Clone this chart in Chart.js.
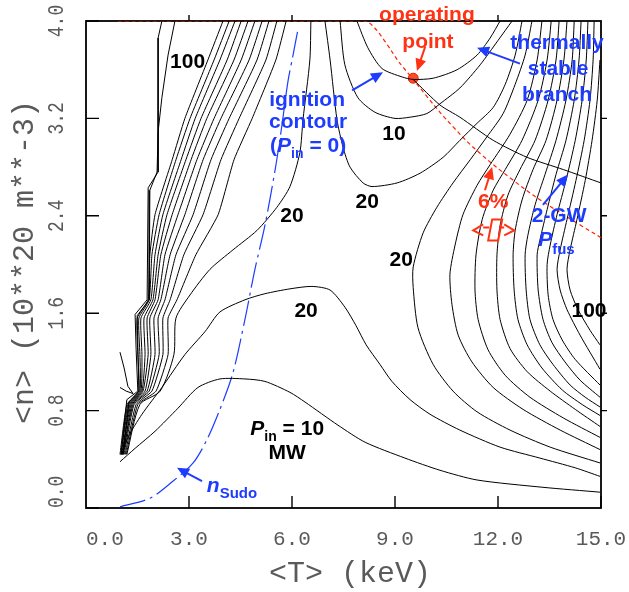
<!DOCTYPE html>
<html>
<head>
<meta charset="utf-8">
<script src="https://cdn.jsdelivr.net/npm/chart.js@4.4.0/dist/chart.umd.min.js"></script>
<style>
  html, body { margin: 0; padding: 0; background: #fff; }
</style>
</head>
<body>
<canvas id="popcon" width="629" height="592"></canvas>
<script>
// axis ticks
const xTicks = [0, 3, 6, 9, 12, 15];
const yTicks = [0, 0.8, 1.6, 2.4, 3.2, 4.0];

// contours, [T keV, n 1e20 m-3]
const ignition = [[7.89,4.0],[8.21,3.78],[8.62,3.61],[9.21,3.54],[9.53,3.52],[10.11,3.53],[10.81,3.60],[11.39,3.72],[11.77,3.86],[12.06,4.0]];
const pin10Upper = [[7.40,4.0],[7.54,3.64],[7.92,3.37],[8.42,3.25],[9.00,3.20],[9.44,3.21],[9.93,3.24],[10.31,3.32],[10.89,3.45],[11.48,3.64],[12.00,3.84],[12.41,4.0]];
const pin20Upper = [[6.96,4.0],[7.11,3.68],[7.31,3.19],[7.49,2.96],[7.69,2.80],[8.07,2.67],[8.33,2.64],[9.06,2.67],[9.73,2.75],[10.40,2.88],[10.89,3.02],[11.39,3.16],[11.86,3.29],[12.21,3.48],[12.50,3.72],[12.70,4.0]];
const pfus2GW = [[9.53,3.52],[10.31,3.31],[10.89,3.21],[11.86,3.02],[12.85,2.88],[13.90,2.78],[15.0,2.67]];
const betaLimit = [[0.93,4.0],[8.13,4.0],[9.15,3.65],[9.53,3.52],[10.31,3.25],[11.10,3.01],[11.86,2.82],[13.02,2.57],[13.90,2.41],[15.0,2.22]];
const nSudo = [[0.99,0.01],[1.86,0.08],[2.53,0.22],[3.12,0.37],[3.52,0.56],[3.90,0.81],[4.28,1.11],[4.63,1.55],[4.92,1.96],[5.21,2.32],[5.51,2.78],[5.71,3.15],[5.88,3.50],[6.03,3.72],[6.18,3.94]];
const operatingPoint = [[9.53,3.53]];

const pin10Lower = [[0.99,0.38],[1.43,0.49],[2.01,0.63],[2.68,0.82],[3.26,0.99],[3.90,1.06],[4.63,1.06],[5.21,1.04],[5.94,0.95],[6.38,0.87],[7.34,0.68],[8.13,0.54],[9.29,0.41],[10.31,0.31],[11.39,0.23],[13.31,0.17],[14.97,0.13]];
const pin20Lower = [[1.05,0.44],[1.22,0.58],[1.63,0.77],[2.21,0.99],[2.88,1.26],[3.47,1.45],[3.90,1.61],[4.63,1.71],[5.21,1.76],[5.94,1.80],[6.58,1.82],[7.11,1.79],[7.54,1.65],[7.86,1.50],[8.16,1.34],[8.56,1.18],[8.91,1.04],[9.44,0.89],[10.02,0.77],[10.89,0.64],[12.06,0.50],[13.22,0.41],[14.25,0.33],[14.97,0.26]];

// high-T family
const pin20Right = [[12.99,4.0],[12.79,3.72],[12.50,3.48],[12.15,3.24],[11.68,3.05],[11.19,2.86],[10.69,2.67],[10.22,2.47],[9.82,2.26],[9.53,1.98],[9.53,1.81],[9.67,1.48],[10.11,1.18],[10.69,0.96],[11.39,0.79],[12.35,0.64],[13.52,0.50],[14.97,0.37]];
const pin30Right = [[13.28,4.0],[13.14,3.68],[12.85,3.35],[12.35,3.07],[11.77,2.82],[11.39,2.65],[10.98,2.41],[10.75,2.16],[10.60,1.92],[10.66,1.67],[10.84,1.42],[11.24,1.20],[11.86,0.99],[12.73,0.81],[13.81,0.64],[14.97,0.48]];
const pin40Right = [[13.55,4.0],[13.43,3.68],[13.17,3.35],[12.70,3.02],[12.21,2.78],[11.86,2.61],[11.54,2.37],[11.36,2.08],[11.33,1.79],[11.42,1.55],[11.71,1.30],[12.21,1.09],[12.93,0.91],[13.90,0.74],[14.97,0.58]];
const pin50Right = [[13.78,4.0],[13.69,3.68],[13.46,3.35],[13.08,3.02],[12.64,2.78],[12.29,2.57],[12.06,2.32],[11.97,2.08],[11.97,1.79],[12.06,1.55],[12.35,1.31],[12.85,1.12],[13.52,0.96],[14.25,0.81],[14.97,0.67]];
const pin60Right = [[14.01,4.0],[13.92,3.68],[13.72,3.35],[13.40,3.02],[13.02,2.78],[12.70,2.53],[12.50,2.28],[12.44,2.08],[12.47,1.79],[12.58,1.55],[12.85,1.34],[13.28,1.15],[13.87,0.97],[14.45,0.85],[14.97,0.76]];
const pin70Right = [[14.22,4.0],[14.16,3.68],[13.98,3.35],[13.69,3.02],[13.37,2.74],[13.08,2.49],[12.87,2.24],[12.79,2.08],[12.82,1.79],[12.93,1.55],[13.22,1.34],[13.60,1.18],[14.10,1.01],[14.54,0.91],[14.97,0.83]];
const pin80Right = [[14.42,4.0],[14.36,3.68],[14.22,3.35],[13.98,3.02],[13.69,2.74],[13.43,2.45],[13.22,2.20],[13.14,2.08],[13.17,1.79],[13.31,1.55],[13.57,1.36],[13.95,1.20],[14.39,1.05],[14.97,0.91]];
const pin90Right = [[14.62,4.0],[14.57,3.68],[14.45,3.35],[14.25,3.02],[13.98,2.69],[13.72,2.41],[13.52,2.16],[13.43,2.00],[13.46,1.75],[13.60,1.55],[13.87,1.38],[14.25,1.22],[14.97,1.01]];
const pin100Right = [[14.80,4.0],[14.77,3.68],[14.68,3.35],[14.51,3.02],[14.27,2.69],[14.01,2.37],[13.81,2.12],[13.72,1.96],[13.81,1.79],[14.01,1.63],[14.39,1.42],[14.97,1.14]];
const pin110Right = [[14.97,3.68],[14.89,3.35],[14.74,3.02],[14.54,2.69],[14.30,2.37],[14.10,2.12],[14.01,1.96],[14.10,1.79],[14.33,1.63],[14.68,1.46],[14.97,1.34]];

// low-T fan: shared n levels, one T list per line
const fanN = [4.0, 3.68, 3.20, 2.86, 2.41, 2.08, 1.71, 1.56, 1.26, 0.96, 0.85, 0.44];
const fanT = [
  [3.99, 3.55, 2.88, 2.51, 2.01, 1.86, 1.81, 1.49, 1.51, 1.54, 1.19, 0.99],
  [4.17, 3.73, 3.03, 2.62, 2.13, 1.92, 1.84, 1.54, 1.57, 1.57, 1.22, 1.02],
  [4.34, 3.90, 3.18, 2.77, 2.24, 2.01, 1.89, 1.60, 1.63, 1.60, 1.25, 1.02],
  [4.52, 4.11, 3.35, 2.91, 2.36, 2.10, 1.95, 1.69, 1.72, 1.63, 1.28, 1.05],
  [4.72, 4.31, 3.52, 3.06, 2.51, 2.18, 2.01, 1.78, 1.81, 1.66, 1.31, 1.05],
  [4.92, 4.52, 3.73, 3.23, 2.68, 2.30, 2.10, 1.86, 1.89, 1.72, 1.34, 1.08],
  [5.13, 4.75, 3.93, 3.41, 2.88, 2.45, 2.18, 1.98, 2.01, 1.78, 1.37, 1.08],
  [5.33, 4.98, 4.17, 3.64, 3.12, 2.62, 2.30, 2.10, 2.13, 1.84, 1.40, 1.11],
  [5.56, 5.24, 4.46, 3.93, 3.41, 2.85, 2.45, 2.24, 2.24, 1.92, 1.46, 1.14],
  [5.83, 5.53, 4.84, 4.31, 3.85, 3.20, 2.65, 2.39, 2.39, 2.04, 1.51, 1.17]
];
const pin20Left = [[6.55,4.0],[6.52,3.68],[6.32,3.19],[6.23,2.92],[5.94,2.64],[5.56,2.47],[4.98,2.28],[4.28,2.12],[3.61,1.96],[3.03,1.75],[2.62,1.56],[2.56,1.26],[2.16,0.96],[1.57,0.85],[1.19,0.44]];
const edge1 = [[2.21,4.0],[2.10,3.86],[2.10,2.76],[1.81,2.63],[1.78,1.71],[1.43,1.59],[1.46,1.30],[1.51,0.96],[1.19,0.89],[1.02,0.44]];
const edge2 = [[2.59,4.0],[2.39,3.72],[2.21,3.37],[2.10,3.09],[2.07,2.76],[1.86,2.61],[1.84,1.71],[1.49,1.58],[1.54,0.96],[1.25,0.87],[1.08,0.44]];
const hookA = [[0.99,1.28],[1.11,1.15],[1.22,1.00],[1.37,0.94]];
const hookB = [[0.99,0.99],[1.17,0.96],[1.37,0.94]];

const BLUE = '#1e3cff';
const RED = '#ff3214';
const SANS = '"Liberation Sans", Arial, sans-serif';
const MONO = '"Liberation Mono", "DejaVu Sans Mono", monospace';
const B = s => 'bold ' + s + 'px ' + SANS;
const BI = s => 'italic bold ' + s + 'px ' + SANS;

const toXY = arr => arr.map(p => ({x: p[0], y: p[1]}));
function contour(arr, opts) {
  return Object.assign({data: toXY(arr), showLine: true, borderColor: '#000', borderWidth: 1,
    pointRadius: 0, tension: 0.25, fill: false}, opts || {});
}

const datasets = [];
fanT.forEach(ts => datasets.push(contour(ts.map((t, i) => [t, fanN[i]]), {tension: 0.15})));
[edge1, edge2, hookA, hookB].forEach(a => datasets.push(contour(a, {tension: 0})));
[pin20Left, pin10Lower, pin20Lower, ignition, pin10Upper, pin20Upper, pfus2GW,
 pin20Right, pin30Right, pin40Right, pin50Right, pin60Right, pin70Right, pin80Right,
 pin90Right, pin100Right, pin110Right].forEach(a => datasets.push(contour(a)));
datasets.push(contour(betaLimit, {borderColor: '#ff2000', borderWidth: 1.2, borderDash: [4, 3], tension: 0.2}));
datasets.push(contour(nSudo, {borderColor: BLUE, borderWidth: 1.2, borderDash: [26, 5, 3, 5], tension: 0.3}));
datasets.push({data: toXY(operatingPoint), showLine: false, pointRadius: 5, pointStyle: 'circle',
  pointBackgroundColor: '#ff4a2a', pointBorderColor: '#e02000', pointBorderWidth: 1});
datasets.push({data: toXY(operatingPoint), showLine: false, pointRadius: 3, pointStyle: 'crossRot',
  pointBorderColor: '#000', pointBorderWidth: 1});

// labels and arrows, anchored in data units
const notes = [
  {T: 2.96, n: 3.61, c: '#000', parts: [['100', B(21)]]},
  {T: 6.44, n: 3.30, c: BLUE, parts: [['ignition', B(21)]]},
  {T: 6.47, n: 3.12, c: BLUE, parts: [['contour', B(21)]]},
  {T: 6.47, n: 2.92, c: BLUE, parts: [['(', B(21)], ['P', BI(21)], ['in', B(14), 6], [' = 0)', B(21)]]},
  {T: 9.93, n: 4.00, c: RED, parts: [['operating', B(21)]]},
  {T: 9.96, n: 3.78, c: RED, parts: [['point', B(21)]]},
  {T: 13.72, n: 3.77, c: BLUE, parts: [['thermally', B(21)]]},
  {T: 13.75, n: 3.56, c: BLUE, parts: [['stable', B(21)]]},
  {T: 13.72, n: 3.34, c: BLUE, parts: [['branch', B(21)]]},
  {T: 8.97, n: 3.02, c: '#000', parts: [['10', B(21)]]},
  {T: 8.19, n: 2.46, c: '#000', parts: [['20', B(21)]]},
  {T: 6.00, n: 2.35, c: '#000', parts: [['20', B(21)]]},
  {T: 9.18, n: 1.99, c: '#000', parts: [['20', B(21)]]},
  {T: 6.41, n: 1.57, c: '#000', parts: [['20', B(21)]]},
  {T: 14.65, n: 1.57, c: '#000', parts: [['100', B(21)]]},
  {T: 5.86, n: 0.60, c: '#000', parts: [['P', BI(21)], ['in', B(14), 6], [' = 10', B(21)]]},
  {T: 5.86, n: 0.40, c: '#000', parts: [['MW', B(21)]]},
  {T: 3.52, n: 0.13, c: BLUE, left: true, parts: [['n', BI(21)], ['Sudo', B(15), 6]]},
  {T: 11.86, n: 2.46, c: RED, parts: [['6%', B(21)]]},
  {T: 13.78, n: 2.35, c: BLUE, parts: [['2-GW', B(21)]]},
  {T: 13.17, n: 2.15, c: BLUE, left: true, parts: [['P', BI(21)], ['fus', B(15), 8]]}
];
const arrows = [
  {from: [7.75, 3.43], to: [8.65, 3.58], c: BLUE},
  {from: [9.88, 3.79], to: [9.64, 3.59], c: RED},
  {from: [12.64, 3.65], to: [11.39, 3.78], c: BLUE},
  {from: [13.31, 2.49], to: [14.04, 2.74], c: BLUE},
  {from: [11.62, 2.61], to: [11.83, 2.80], c: RED},
  {from: [3.38, 0.22], to: [2.65, 0.33], c: BLUE}
];
const widthMark = [11.86, 2.28];

function drawRuns(ctx, x, y, parts, left) {
  let w = 0;
  parts.forEach(p => { ctx.font = p[1]; w += ctx.measureText(p[0]).width; });
  let cx = left ? x : x - w / 2;
  parts.forEach(p => {
    ctx.font = p[1];
    ctx.fillText(p[0], cx, y + (p[2] || 0));
    cx += ctx.measureText(p[0]).width;
  });
}

function drawArrow(ctx, x1, y1, x2, y2, color) {
  const a = Math.atan2(y2 - y1, x2 - x1), L = 12, H = 5.5;
  ctx.strokeStyle = color; ctx.fillStyle = color; ctx.lineWidth = 2;
  ctx.beginPath(); ctx.moveTo(x1, y1);
  ctx.lineTo(x2 - L * 0.8 * Math.cos(a), y2 - L * 0.8 * Math.sin(a)); ctx.stroke();
  ctx.beginPath(); ctx.moveTo(x2, y2);
  ctx.lineTo(x2 - L * Math.cos(a) + H * Math.sin(a), y2 - L * Math.sin(a) - H * Math.cos(a));
  ctx.lineTo(x2 - L * Math.cos(a) - H * Math.sin(a), y2 - L * Math.sin(a) + H * Math.cos(a));
  ctx.closePath(); ctx.fill();
}

const frame = {
  id: 'frame',
  beforeDatasetsDraw(chart) {
    const {ctx, chartArea: a, scales: {x, y}} = chart;
    ctx.save();
    ctx.strokeStyle = '#000';
    ctx.lineWidth = 1.8;
    ctx.strokeRect(a.left, a.top, a.right - a.left, a.bottom - a.top);
    ctx.lineWidth = 1.4;
    ctx.beginPath();
    yTicks.forEach(v => {
      const py = y.getPixelForValue(v);
      ctx.moveTo(a.left, py); ctx.lineTo(a.left + 13, py);
      if (v > 0 && v < 4) { ctx.moveTo(a.right, py); ctx.lineTo(a.right + 6, py); }
    });
    xTicks.forEach(v => {
      const px = x.getPixelForValue(v);
      if (v > 0) { ctx.moveTo(px, a.bottom); ctx.lineTo(px, a.bottom - 12); }
      if (v > 0 && v < 15) { ctx.moveTo(px, a.top); ctx.lineTo(px, a.top - 6); }
    });
    ctx.stroke();

    // tick labels and titles, thin grey monospace
    ctx.fillStyle = '#5a5a5a';
    ctx.textBaseline = 'alphabetic';
    ctx.font = '21px ' + MONO;
    xTicks.forEach((v, i) => {
      const px = x.getPixelForValue(v);
      ctx.textAlign = i === 0 ? 'left' : 'center';
      ctx.fillText(v.toFixed(1), px, 545);
    });
    yTicks.forEach((v, i) => {
      ctx.save();
      ctx.translate(63, y.getPixelForValue(v));
      ctx.rotate(-Math.PI / 2);
      ctx.scale(1, 1.25);
      ctx.font = '18px ' + MONO;
      ctx.textAlign = i === 0 ? 'left' : 'center';
      ctx.fillText(v.toFixed(1), 0, 0);
      ctx.restore();
    });
    ctx.font = '30px ' + MONO;
    ctx.textAlign = 'center';
    ctx.fillText('<T> (keV)', 350, 582);
    ctx.save();
    ctx.translate(33, 262);
    ctx.rotate(-Math.PI / 2);
    ctx.fillText('<n> (10**20 m**-3)', 0, 0);
    ctx.restore();
    ctx.restore();
  },
  afterDatasetsDraw(chart) {
    const {ctx, scales: {x, y}} = chart;
    ctx.save();
    ctx.textBaseline = 'alphabetic';
    ctx.textAlign = 'left';
    notes.forEach(nt => {
      ctx.fillStyle = nt.c;
      drawRuns(ctx, x.getPixelForValue(nt.T), y.getPixelForValue(nt.n), nt.parts, nt.left);
    });
    arrows.forEach(ar => drawArrow(ctx,
      x.getPixelForValue(ar.from[0]), y.getPixelForValue(ar.from[1]),
      x.getPixelForValue(ar.to[0]), y.getPixelForValue(ar.to[1]), ar.c));

    // the red "<[]>" width mark under 6%
    const cx = x.getPixelForValue(widthMark[0]), cy = y.getPixelForValue(widthMark[1]);
    ctx.strokeStyle = RED; ctx.lineWidth = 2;
    ctx.beginPath();
    ctx.moveTo(cx - 10, cy - 6); ctx.lineTo(cx - 20, cy); ctx.lineTo(cx - 10, cy + 5);
    ctx.moveTo(cx + 11, cy - 6); ctx.lineTo(cx + 21, cy); ctx.lineTo(cx + 11, cy + 5);
    ctx.moveTo(cx - 10, cy - 3); ctx.lineTo(cx - 4, cy - 3);
    ctx.moveTo(cx + 11, cy - 3); ctx.lineTo(cx + 6, cy - 3);
    ctx.moveTo(cx - 1, cy - 11); ctx.lineTo(cx + 9, cy - 11);
    ctx.lineTo(cx + 5, cy + 10); ctx.lineTo(cx - 5, cy + 10); ctx.closePath();
    ctx.stroke();
    ctx.restore();
  }
};

new Chart('popcon', {
  type: 'scatter',
  data: {datasets: datasets},
  options: {
    responsive: false,
    animation: false,
    devicePixelRatio: 1,
    layout: {padding: {left: 86, right: 28, top: 21, bottom: 84}},
    plugins: {legend: {display: false}, tooltip: {enabled: false}},
    scales: {
      x: {type: 'linear', min: 0, max: 15, display: false},
      y: {type: 'linear', min: 0, max: 4, display: false}
    }
  },
  plugins: [frame]
});
</script>
</body>
</html>
